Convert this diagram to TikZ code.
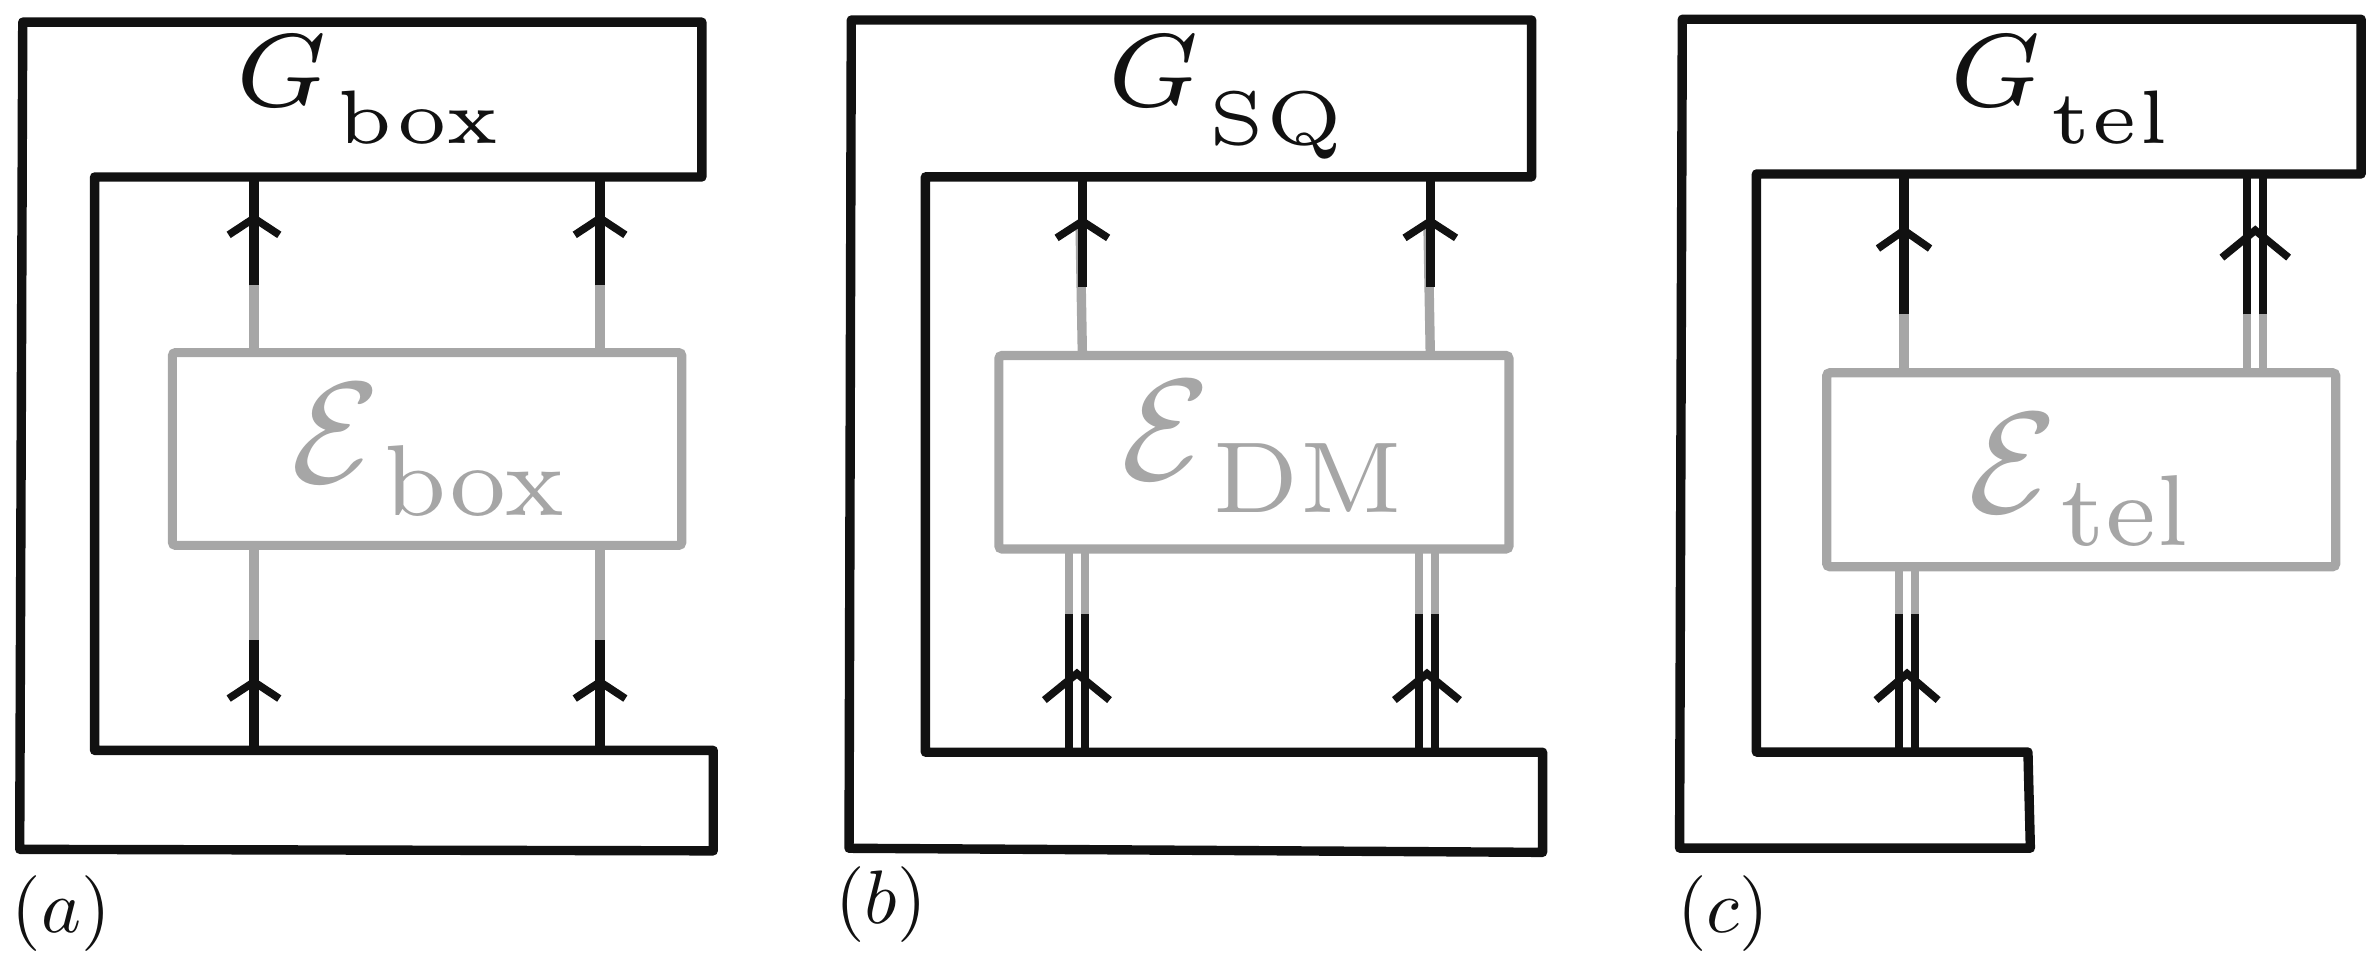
\documentclass[tikz,border=0pt]{standalone}
\usepackage{graphicx}
\definecolor{ink}{HTML}{111111}
\definecolor{faint}{HTML}{A6A6A6}
\newcommand{\Glab}[1]{\scalebox{9.8}{\fontsize{7}{7}\selectfont$G$}\kern6pt\raisebox{-25pt}{\scalebox{10}{\fontsize{5}{5}\selectfont$\mathrm{#1}$}}}
\newcommand{\Elab}[1]{\scalebox{9.5}{$\mathcal{E}$}\kern2pt\raisebox{-22pt}{\scalebox{9.5}{\fontsize{7}{7}\selectfont$\mathrm{#1}$}}}
\newcommand{\Plab}[1]{\scalebox{5.0}{$(#1)$}}
\tikzset{
  gline/.style={draw=ink, line width=6.2pt, line join=round},
  ebox/.style={draw=faint, line width=6pt, rounded corners=2pt},
  wblk/.style={draw=ink, line width=6.2pt},
  wgry/.style={draw=faint, line width=6.2pt},
  dblk/.style={draw=ink, line width=5.3pt},
  dgry/.style={draw=faint, line width=5.3pt},
  chev/.style={draw=ink, line width=5pt, line join=miter},
  glab/.style={inner sep=0pt, anchor=base west, text=ink},
  elab/.style={inner sep=0pt, anchor=base west, text=faint},
  plab/.style={inner sep=0pt, text=ink},
}
\begin{document}
\begin{tikzpicture}[x=1pt,y=-1pt]
\useasboundingbox (0,0) rectangle (1568,634);

% ================= panel (a) =================
\coordinate (a1t) at (167.6,116.8); \coordinate (a1m) at (167.6,188.3); \coordinate (a1b) at (167.6,232.7);
\coordinate (a2t) at (396,116.8);   \coordinate (a2m) at (396,188.3);   \coordinate (a2b) at (396,232.7);
\coordinate (a3t) at (167.6,359.9); \coordinate (a3m) at (167.6,422.5); \coordinate (a3b) at (167.6,495.2);
\coordinate (a4t) at (396,359.9);   \coordinate (a4m) at (396,422.5);   \coordinate (a4b) at (396,495.2);
\draw[wgry] (a1b) -- (a1m); \draw[wblk] (a1m) -- (a1t);
\draw[wgry] (a2b) -- (a2m); \draw[wblk] (a2m) -- (a2t);
\draw[wgry] (a3t) -- (a3m); \draw[wblk] (a3m) -- (a3b);
\draw[wgry] (a4t) -- (a4m); \draw[wblk] (a4m) -- (a4b);
\draw[chev] (150.9,155) -- (167.6,144) -- (184.3,155);
\draw[chev] (379.3,155) -- (396,144) -- (412.7,155);
\draw[chev] (150.9,461) -- (167.6,450) -- (184.3,461);
\draw[chev] (379.3,461) -- (396,450) -- (412.7,461);
\draw[ebox] (113.8,232.7) rectangle (449.9,359.9);
\draw[gline] (15,14.6) -- (463.2,14.6) -- (463.2,116.8) -- (62.4,116.8) -- (62.4,495.2)
  -- (470.7,495.2) -- (470.7,561.5) -- (13,560.5) -- cycle;
\node[glab] (Ga) at (155,70) {\Glab{box}};
\node[elab] (Ea) at (192,318.5) {\Elab{box}};
\node[plab] (la) at (40.3,603) {\Plab{a}};

% ================= panel (b) =================
\coordinate (b1t) at (714.3,116.7); \coordinate (b1m) at (714.3,189.1); \coordinate (b1b) at (714.3,234.6);
\coordinate (b2t) at (943.9,116.7); \coordinate (b2m) at (943.9,189.1); \coordinate (b2b) at (943.9,234.6);
\draw[wgry] (b1b) -- (712.8,150); \draw[wblk] (b1m) -- (b1t);
\draw[wgry] (b2b) -- (942.4,150); \draw[wblk] (b2m) -- (b2t);
\draw[chev] (697.3,157) -- (714.3,146) -- (731.3,157);
\draw[chev] (926.9,157) -- (943.9,146) -- (960.9,157);
% lower double wires
\foreach \cx in {710.7, 941.7}{
  \draw[dgry] (\cx-5.3,362.3) -- (\cx-5.3,405.5); \draw[dgry] (\cx+5.3,362.3) -- (\cx+5.3,405.5);
  \draw[dblk] (\cx-5.3,405.5) -- (\cx-5.3,496.4); \draw[dblk] (\cx+5.3,405.5) -- (\cx+5.3,496.4);
  \draw[chev] (\cx-21.5,462) -- (\cx,444.5) -- (\cx+21.5,462);
}
\draw[ebox] (659.2,234.6) rectangle (995.8,362.3);
\draw[gline] (561.8,13.2) -- (1010.8,13.2) -- (1010.8,116.7) -- (610.7,116.7) -- (610.7,496.4)
  -- (1018,496.4) -- (1018,562.5) -- (560.3,559.8) -- cycle;
\node[glab] (Gb) at (730.4,70.5) {\Glab{SQ}};
\node[elab] (Eb) at (739.6,316.5) {\Elab{DM}};
\node[plab] (lb) at (581.5,597) {\Plab{b}};

% ================= panel (c) =================
\coordinate (c1t) at (1256.5,114.8); \coordinate (c1m) at (1256.5,207.5); \coordinate (c1b) at (1256.5,246);
\draw[wgry] (c1b) -- (c1m); \draw[wblk] (c1m) -- (c1t);
\draw[chev] (1239.3,164) -- (1256.5,152) -- (1273.7,164);
% upper double
\draw[dgry] (1483,246) -- (1483,207.5); \draw[dgry] (1493.6,246) -- (1493.6,207.5);
\draw[dblk] (1483,207.5) -- (1483,114.8); \draw[dblk] (1493.6,207.5) -- (1493.6,114.8);
\draw[chev] (1466.3,170) -- (1488.3,152) -- (1510.3,170);
% lower double
\draw[dgry] (1253.2,374) -- (1253.2,405.5); \draw[dgry] (1263.8,374) -- (1263.8,405.5);
\draw[dblk] (1253.2,405.5) -- (1253.2,496.3); \draw[dblk] (1263.8,405.5) -- (1263.8,496.3);
\draw[chev] (1238,462) -- (1258.5,444.5) -- (1279,462);
\draw[ebox] (1205.5,246) rectangle (1541.4,374);
\draw[gline] (1110.2,12.7) -- (1558.2,12.7) -- (1558.2,114.8) -- (1159.1,114.8) -- (1159.1,496.3)
  -- (1338.3,496.3) -- (1339.9,559.7) -- (1108.4,559.7) -- cycle;
\node[glab] (Gc) at (1286.2,70) {\Glab{tel}};
\node[elab] (Ec) at (1298.9,338) {\Elab{tel}};
\node[plab] (lc) at (1137,603) {\Plab{c}};
\end{tikzpicture}
\end{document}
